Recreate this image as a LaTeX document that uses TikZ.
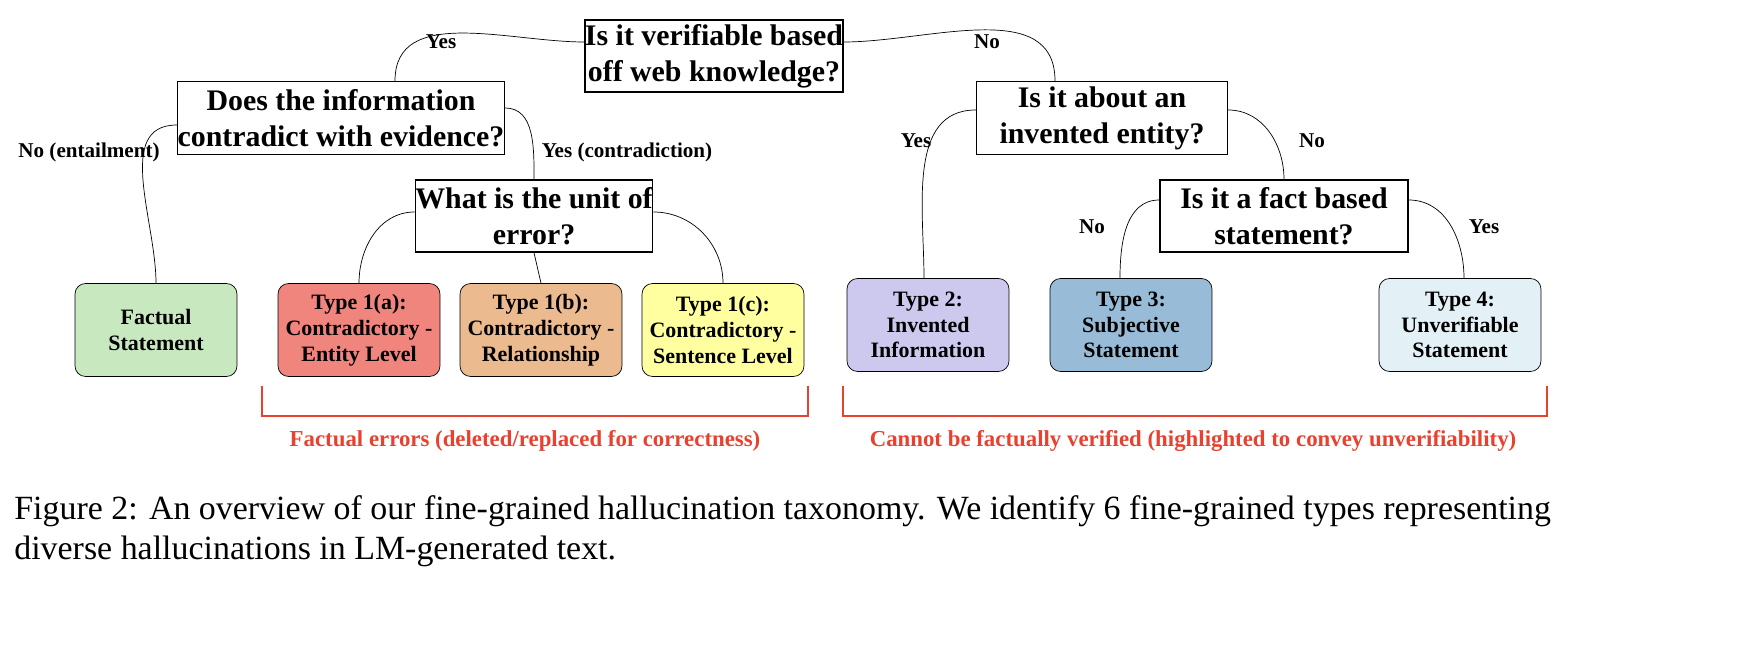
\documentclass[tikz,border=0pt]{standalone}
\usepackage{fontspec}
\setmainfont{Liberation Serif}
\usetikzlibrary{positioning}
\definecolor{cfact}{HTML}{C8E8C0}
\definecolor{cent}{HTML}{F0857E}
\definecolor{crel}{HTML}{EBBA8E}
\definecolor{csen}{HTML}{FFFFA0}
\definecolor{cinv}{HTML}{CCC8EE}
\definecolor{csub}{HTML}{98BCD8}
\definecolor{cunv}{HTML}{E3F0F5}
\definecolor{cred}{HTML}{E8412F}
\tikzset{
  qbox/.style = {draw, thick, fill=white, align=center, font=\fontsize{17}{20.5}\selectfont\bfseries, inner sep=0pt},
  leaf/.style = {draw, rounded corners=6pt, align=center, font=\fontsize{12.5}{14.7}\selectfont\bfseries, minimum width=3.24cm, minimum height=1.86cm, inner sep=0pt},
  lbl/.style = {font=\fontsize{12}{14}\selectfont\bfseries},
  con/.style = {thin}
}
\begin{document}
\begin{tikzpicture}[x=0.02cm,y=-0.02cm]
% questions
\node[qbox, minimum width=4.86cm, minimum height=1.44cm] (root) at (714,56) {Is it verifiable based\\off web knowledge?};
\node[qbox, minimum width=5.96cm, minimum height=1.46cm] (ctr) at (341,118) {Does the information\\contradict with evidence?};
\node[qbox, minimum width=5.02cm, minimum height=1.46cm] (inv) at (1102,118) {Is it about an\\invented entity?};
\node[qbox, minimum width=4.42cm, minimum height=1.44cm] (unit) at (534,216) {What is the unit of\\error?};
\node[qbox, minimum width=4.96cm, minimum height=1.44cm] (fbs) at (1284,216) {Is it a fact based\\statement?};
% leaves
\node[leaf, fill=cfact] (fact) at (156,330) {Factual\\Statement};
\node[leaf, fill=cent] (t1a) at (359,330) {Type 1(a):\\Contradictory -\\Entity Level};
\node[leaf, fill=crel] (t1b) at (541,330) {Type 1(b):\\Contradictory -\\Relationship};
\node[leaf, fill=csen] (t1c) at (723,330) {Type 1(c):\\Contradictory -\\Sentence Level};
\node[leaf, fill=cinv] (t2) at (928,325) {Type 2:\\Invented\\Information};
\node[leaf, fill=csub] (t3) at (1131,325) {Type 3:\\Subjective\\Statement};
\node[leaf, fill=cunv] (t4) at (1460,325) {Type 4:\\Unverifiable\\Statement};
% connectors
\draw[con] (root.west |- 0,42) to[out=180,in=90] (ctr.north -| 395,0);
\draw[con] (root.east |- 0,42) to[out=0,in=90] (inv.north -| 1055,0);
\draw[con] (ctr.west |- 0,125) to[out=180,in=90] (fact.north);
\draw[con] (ctr.east |- 0,108) to[out=0,in=90] (unit.north);
\draw[con] (unit.west |- 0,212) to[out=180,in=90] (t1a.north);
\draw[con] (unit.south) -- (t1b.north);
\draw[con] (unit.east |- 0,212) to[out=0,in=90] (t1c.north);
\draw[con] (inv.west |- 0,110) to[out=180,in=90] (t2.north -| 924,0);
\draw[con] (inv.east |- 0,110) to[out=0,in=90] (fbs.north);
\draw[con] (fbs.west |- 0,200) to[out=180,in=90] (t3.north -| 1120,0);
\draw[con] (fbs.east |- 0,200) to[out=0,in=90] (t4.north -| 1464,0);
% labels
\node[lbl] at (441,42) {Yes};
\node[lbl] at (987,42) {No};
\node[lbl] at (89,152) {No (entailment)};
\node[lbl] at (627,152) {Yes (contradiction)};
\node[lbl] at (916,141) {Yes};
\node[lbl] at (1312,141) {No};
\node[lbl] at (1092,227) {No};
\node[lbl] at (1484,227) {Yes};
% brackets
\coordinate (b1) at (262,386); \coordinate (b2) at (808,386);
\coordinate (b3) at (843,386); \coordinate (b4) at (1547,386);
\draw[cred, line width=1.4pt] (b1) -- ++(0,30) -| (b2);
\draw[cred, line width=1.4pt] (b3) -- ++(0,30) -| (b4);
\node[lbl, text=cred, font=\fontsize{13}{15}\selectfont\bfseries] (e1) at (525,441) {Factual errors (deleted/replaced for correctness)};
\node[lbl, text=cred, font=\fontsize{13}{15}\selectfont\bfseries] (e2) at (1193,441) {Cannot be factually verified (highlighted to convey unverifiability)};
% caption
\node[anchor=north west, align=left, inner sep=0pt, font=\fontsize{19.3}{22.7}\selectfont] (cap) at (14,495) {Figure 2: An overview of our fine-grained hallucination taxonomy. We identify 6 fine-grained types representing\\diverse hallucinations in LM-generated text.};
\pgfresetboundingbox
\useasboundingbox (0,0) rectangle (1762,658);
\end{tikzpicture}
\end{document}
